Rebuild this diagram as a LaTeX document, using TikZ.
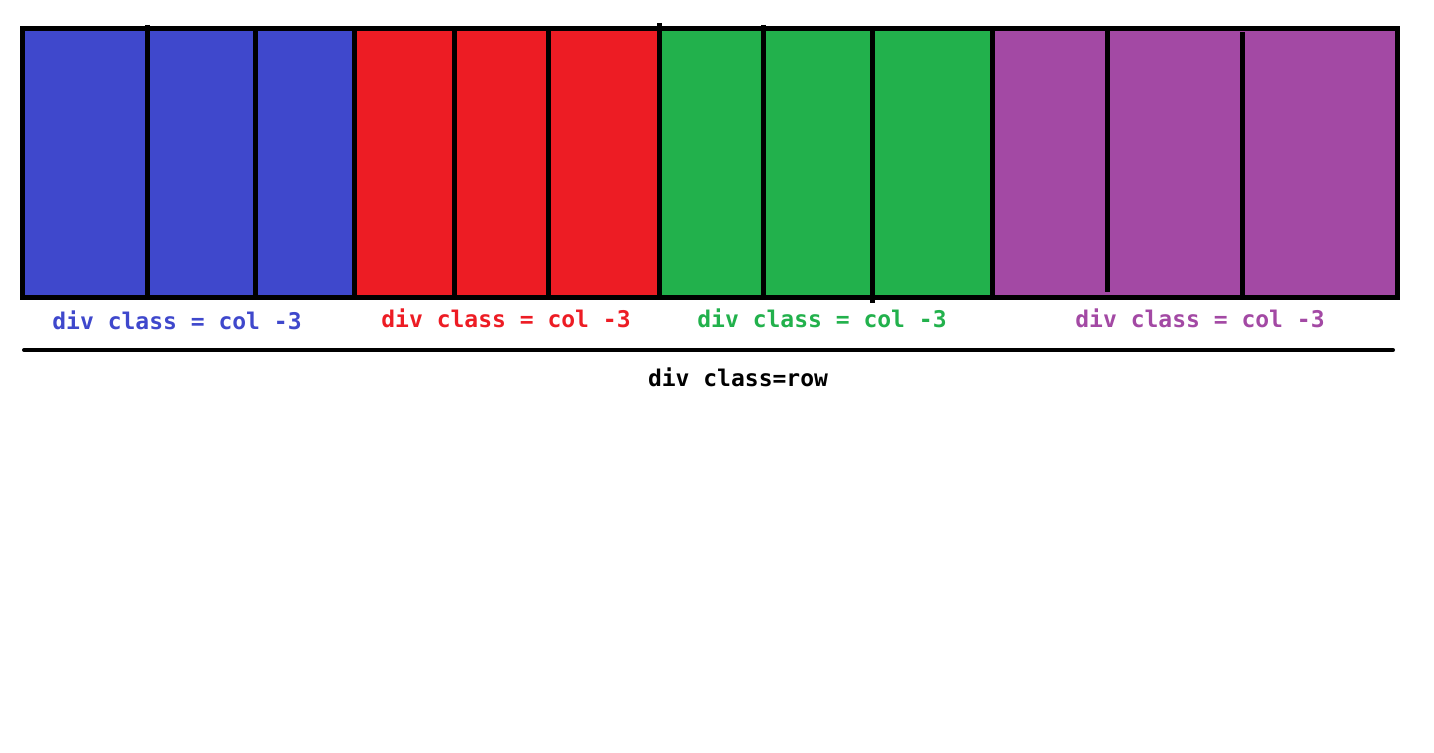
\documentclass[tikz,border=0pt]{standalone}
\usepackage{fontspec}
\setmonofont{DejaVu Sans Mono}
\usepackage{xcolor}
\usetikzlibrary{positioning}
\definecolor{colblue}{RGB}{63,72,204}
\definecolor{colred}{RGB}{237,28,36}
\definecolor{colgreen}{RGB}{34,177,76}
\definecolor{colpurple}{RGB}{163,73,164}
\begin{document}
\begin{tikzpicture}[x=1pt,y=-1pt,
      frame/.style={line width=5pt},
      divider/.style={line width=5pt},
      baseline/.style={line width=4pt,line cap=round},
      lbl/.style={font=\ttfamily\bfseries\fontsize{23}{28}\selectfont,inner sep=0pt},
      rowlbl/.style={font=\ttfamily\bfseries\fontsize{23}{28}\selectfont,inner sep=0pt}]
    \useasboundingbox (0,0) rectangle (1434,752);
    % the four col-3 blocks
    \fill[colblue] (22.5,28.5) rectangle (354.5,297.5);
    \fill[colred] (354.5,28.5) rectangle (659.5,297.5);
    \fill[colgreen] (659.5,28.5) rectangle (992.5,297.5);
    \fill[colpurple] (992.5,28.5) rectangle (1397.5,297.5);
    \draw[frame] (22.5,28.5) rectangle (1397.5,297.5);
    % inner dividers
    \draw[divider] (147.5,25) -- (147.5,297.5);
    \draw[divider] (255.5,28.5) -- (255.5,297.5);
    \draw[divider] (354.5,28.5) -- (354.5,297.5);
    \draw[divider] (454.5,28.5) -- (454.5,297.5);
    \draw[divider] (548.5,28.5) -- (548.5,297.5);
    \draw[divider] (659.5,23) -- (659.5,297.5);
    \draw[divider] (763.5,25) -- (763.5,297.5);
    \draw[divider] (872.5,28.5) -- (872.5,303);
    \draw[divider] (992.5,28.5) -- (992.5,297.5);
    \draw[divider] (1107.5,28.5) -- (1107.5,292);
    \draw[divider] (1242.5,32) -- (1242.5,297.5);
    % labels
    \node[lbl,text=colblue] (bluelbl) at (177,320) {div class = col -3};
    \node[lbl,text=colred] (redlbl) at (506,318) {div class = col -3};
    \node[lbl,text=colgreen] (greenlbl) at (822,318) {div class = col -3};
    \node[lbl,text=colpurple] (purplelbl) at (1200,318) {div class = col -3};
    \draw[baseline] (24,350) -- (1393,350);
    \node[rowlbl] (rowlbl) at (738,377) {div class=row};
  \end{tikzpicture}
\end{document}
